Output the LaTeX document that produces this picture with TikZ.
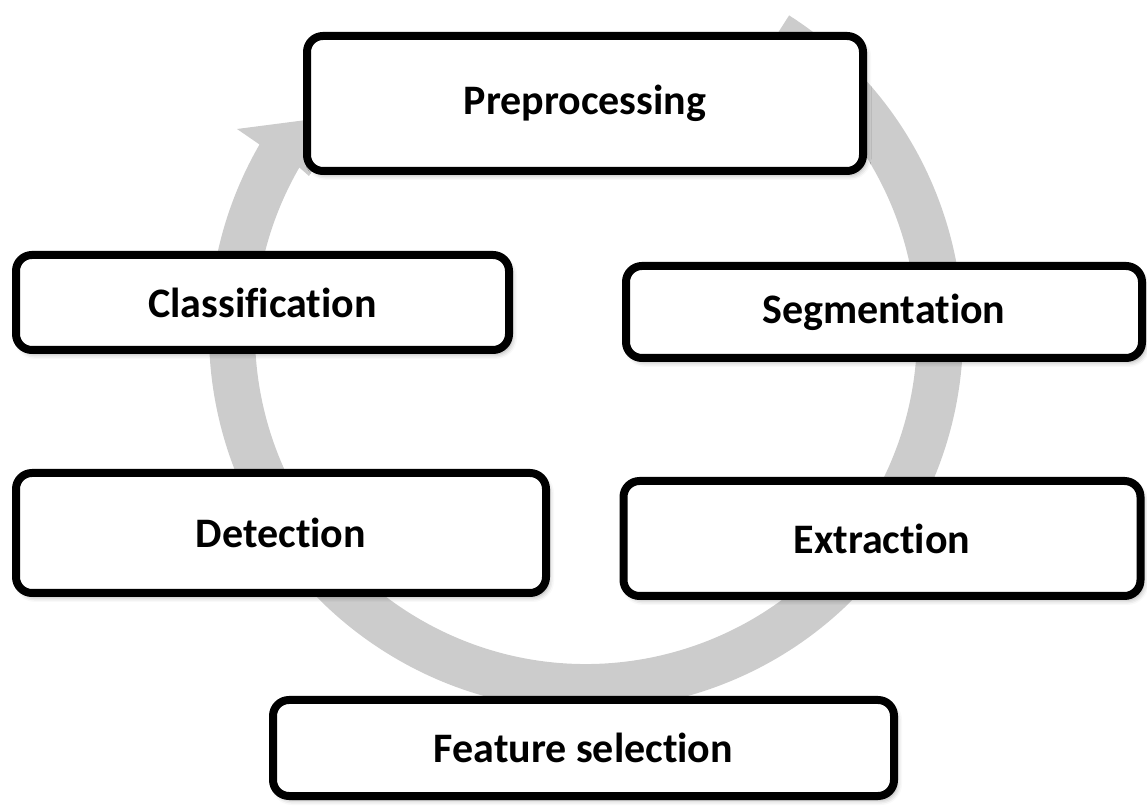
\documentclass[tikz,border=0pt]{standalone}
\usepackage{fontspec}
\setmainfont{Carlito}[Ligatures=NoCommon]
\usetikzlibrary{calc,shadows.blur}
\definecolor{bandgray}{RGB}{204,204,204}
\begin{document}
\begin{tikzpicture}[x=1pt,y=1pt,
  stage/.style={draw=black, line width=8pt, rounded corners=16pt, fill=white,
    inner sep=0pt, font=\fontsize{42}{50}\selectfont\bfseries,
    blur shadow={shadow xshift=3pt, shadow yshift=-4pt, shadow blur radius=5pt, shadow opacity=35}},
  band/.style={fill=bandgray, draw=none}]
\useasboundingbox (0,0) rectangle (1147,805);

% circular gray arrow behind the stages
\coordinate (C) at (586,472);
\coordinate (barbout) at (237,676);
\coordinate (tip) at (345,690);
\coordinate (barbin) at (309,629);
\fill[band] ($(C)+(57.4:377)$) arc[start angle=57.4, end angle=-210, radius=377]
  -- (barbout) -- (tip) -- (barbin)
  -- ($(C)+(-210:331)$) arc[start angle=-210, end angle=57.4, radius=331] -- cycle;

% stages
\node[stage, minimum width=556, minimum height=135] (pre) at (585,701.5) {Preprocessing};
\node[stage, minimum width=493, minimum height=95] (cls) at (262.5,502.5) {Classification};
\node[stage, minimum width=516, minimum height=92] (seg) at (884,493) {Segmentation};
\node[stage, minimum width=530, minimum height=120] (det) at (281,272) {Detection};
\node[stage, minimum width=517, minimum height=115] (ext) at (882,266.5) {Extraction};
\node[stage, minimum width=621, minimum height=96] (fs) at (583.5,57) {Feature selection};
\end{tikzpicture}
\end{document}
